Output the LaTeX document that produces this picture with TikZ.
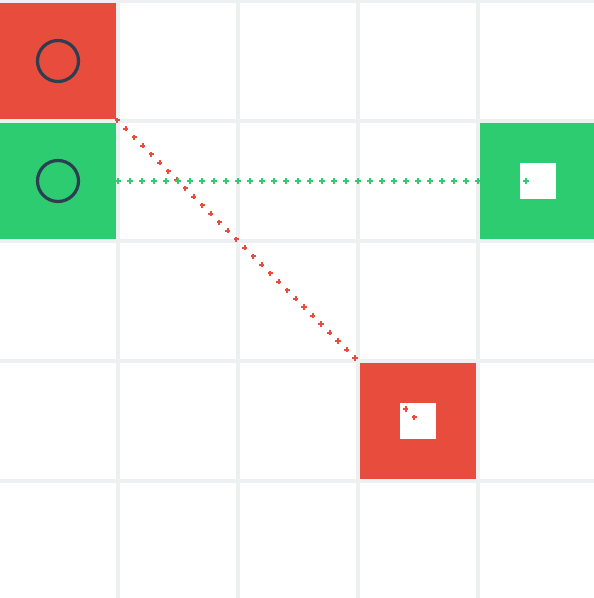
\documentclass[tikz,border=0pt]{standalone}
\usetikzlibrary{decorations.markings}
\definecolor{flatred}{HTML}{E74C3C}
\definecolor{flatgreen}{HTML}{2ECC71}
\definecolor{flatdark}{HTML}{2C3E50}
\definecolor{flatgrid}{HTML}{ECF0F1}
\tikzset{
	cell/.style={rectangle, minimum size=116pt, inner sep=0pt, outer sep=0pt},
	hole/.style={rectangle, fill=white, minimum size=36pt, inner sep=0pt},
	ring/.style={circle, draw=flatdark, line width=3.2pt, minimum size=41pt, inner sep=0pt},
	gridline/.style={flatgrid, line width=4pt},
	plusmark/.style={decorate, decoration={markings,
		mark=between positions 0 and 1 step 12pt with {\pgftransformresetnontranslations
			\fill[#1] (-2.6pt,-1pt) rectangle (2.6pt,1pt);
			\fill[#1] (-1pt,-2.6pt) rectangle (1pt,2.6pt);}}}
}
\begin{document}
\begin{tikzpicture}[x=1pt, y=-1pt]
		\useasboundingbox (0,0) rectangle (594,598);
		\fill[white] (0,0) rectangle (594,598);
		% grid
		\foreach \x in {118,238,358,478}
			\draw[gridline] (\x,0) -- (\x,598);
		\foreach \y in {1,121,241,361,481}
			\draw[gridline] (0,\y) -- (594,\y);
		% cells
		\node[cell, fill=flatred] (redA) at (58,61) {};
		\node[cell, fill=flatgreen] (greenA) at (58,181) {};
		\node[cell, fill=flatgreen] (greenB) at (538,181) {};
		\node[cell, fill=flatred] (redB) at (418,421) {};
		\node[hole] (holeG) at (greenB.center) {};
		\node[hole] (holeR) at (redB.center) {};
		\coordinate (greenEnd) at ([xshift=-10pt]greenB.center);
		% moves
		\path[plusmark=flatred] (redA.center) -- (redB.center);
		\path[plusmark=flatgreen] (greenA.center) -- (greenEnd);
		% pieces
		\node[ring] (ringA) at (redA.center) {};
		\node[ring] (ringB) at (greenA.center) {};
	\end{tikzpicture}
\end{document}
